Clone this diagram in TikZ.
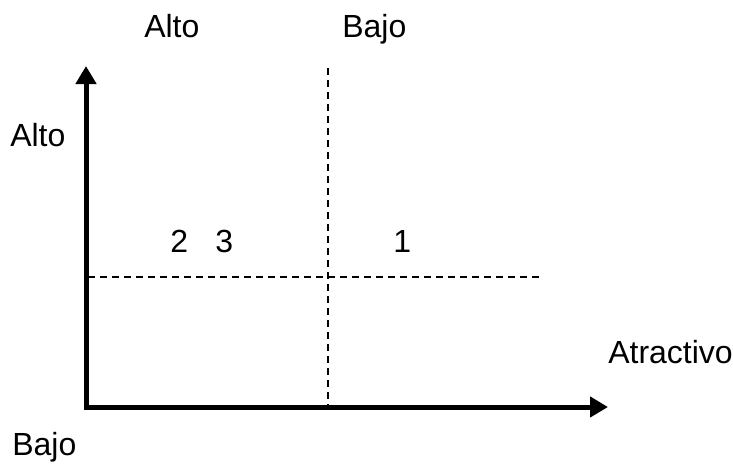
\documentclass[tikz,border=0pt]{standalone}
\usepackage{fontspec}
\setmainfont{Liberation Sans}
\usetikzlibrary{arrows.meta}
\begin{document}
\begin{tikzpicture}[x=0.75pt,y=-0.75pt,
  lbl/.style={anchor=base west,inner sep=0pt,font=\fontsize{24pt}{28pt}\selectfont},
  axis/.style={line width=3.75pt,line join=miter,{Triangle[width=15pt,length=13.5pt]}-{Triangle[width=15pt,length=13.5pt]}},
  divline/.style={line width=1.1pt,dash pattern=on 5.25pt off 3.75pt}]
\useasboundingbox (0,0) rectangle (733,465);
\coordinate (ytip) at (86,66);
\coordinate (origin) at (86,407);
\coordinate (xtip) at (608,407);
\coordinate (vtop) at (328,68);
\coordinate (vbot) at (328,407);
\coordinate (hleft) at (88,277);
\coordinate (hright) at (540,277);
\draw[axis] (ytip) -- (origin) -- (xtip);
\draw[divline] (vtop) -- (vbot);
\draw[divline] (hleft) -- (hright);
\node[lbl] (topalto) at (144,37) {Alto};
\node[lbl] (topbajo) at (342,37) {Bajo};
\node[lbl] (leftalto) at (10,146) {Alto};
\node[lbl] (n2) at (170,252) {2};
\node[lbl] (n3) at (215,252) {3};
\node[lbl] (n1) at (393,252) {1};
\node[lbl] (atr) at (608,363) {Atractivo};
\node[lbl] (botbajo) at (12,455) {Bajo};
\end{tikzpicture}
\end{document}
